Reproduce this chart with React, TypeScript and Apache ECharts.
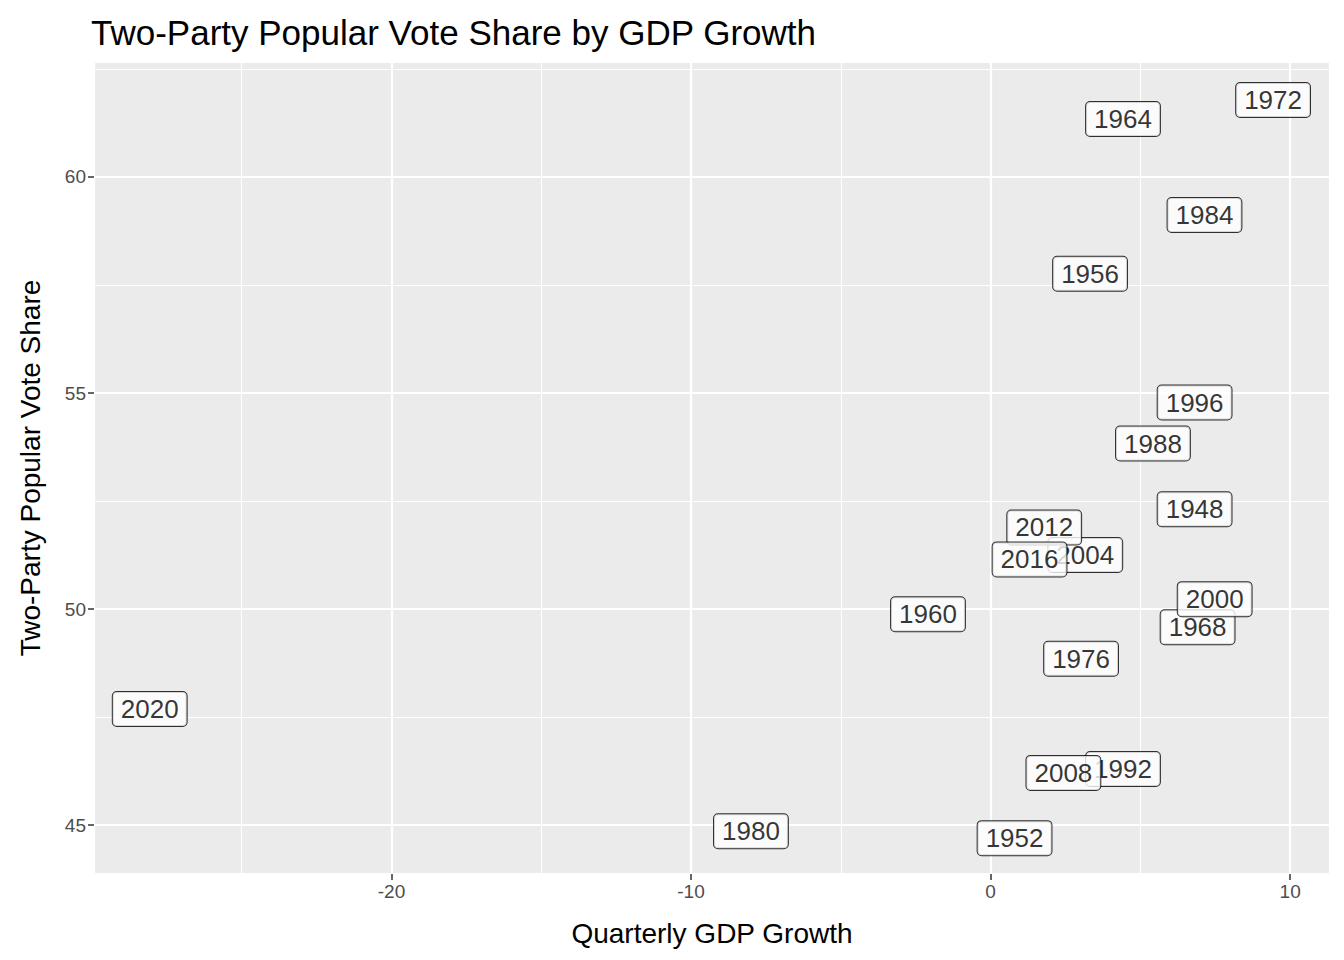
import { useEffect, useRef } from 'react';
import * as echarts from 'echarts';

const YEARS = ['1948', '1952', '1956', '1960', '1964', '1968', '1972', '1976', '1980', '1984', '1988', '1992', '1996', '2000', '2004', '2008', '2012', '2016', '2020'];
const GDP_GROWTH = [6.81, 0.8, 3.32, -2.09, 4.42, 6.91, 9.43, 3.02, -8.0, 7.14, 5.42, 4.42, 6.81, 7.48, 3.16, 2.43, 1.79, 1.3, -28.07];
const VOTE_SHARE = [52.31, 44.7, 57.76, 49.88, 61.34, 49.58, 61.78, 48.85, 44.86, 59.12, 53.83, 46.3, 54.78, 50.23, 51.25, 46.21, 51.89, 51.15, 47.69];

const FONT = '"Liberation Sans", Arial, sans-serif';

export default function App() {
  const ref = useRef<HTMLDivElement>(null);

  useEffect(() => {
    if (!ref.current) return;
    const chart = echarts.init(ref.current, null, { renderer: 'svg' });
    const axisCommon = {
      axisLine: { show: false, onZero: false },
      axisTick: { show: true, length: 6, lineStyle: { color: '#333333', width: 1.5 } },
      axisLabel: { color: '#4D4D4D', fontSize: 19, fontFamily: FONT, showMinLabel: false, showMaxLabel: false },
      splitLine: { show: true, lineStyle: { color: '#FFFFFF', width: 2.2 } },
      minorTick: { show: false, splitNumber: 2 },
      minorSplitLine: { show: true, lineStyle: { color: '#FFFFFF', width: 1.1 } },
      nameLocation: 'middle' as const,
      nameTextStyle: { color: '#000000', fontSize: 28, fontFamily: FONT },
    };
    chart.setOption({
      animation: false,
      backgroundColor: '#FFFFFF',
      title: {
        text: 'Two-Party Popular Vote Share by GDP Growth',
        left: 78,
        top: 2,
        textStyle: { color: '#000000', fontSize: 35, fontWeight: 'normal', fontFamily: FONT },
      },
      grid: { left: 80, right: 6, top: 54, bottom: 77, backgroundColor: '#EBEBEB', show: true, borderWidth: 0 },
      xAxis: {
        ...axisCommon,
        type: 'value',
        position: 'bottom',
        min: -29.93,
        max: 11.33,
        splitNumber: 4,
        name: 'Quarterly GDP Growth',
        nameGap: 45,
      },
      yAxis: {
        ...axisCommon,
        type: 'value',
        position: 'left',
        min: 43.87,
        max: 62.66,
        splitNumber: 4,
        name: 'Two-Party Popular Vote Share',
        nameGap: 50,
      },
      series: [
        {
          type: 'scatter',
          symbolSize: 0,
          itemStyle: { color: 'transparent' },
          data: YEARS.map((y, i) => ({ name: y, value: [GDP_GROWTH[i], VOTE_SHARE[i]] })),
          label: {
            show: true,
            position: 'inside',
            formatter: '{b}',
            color: '#000000',
            fontSize: 26,
            fontFamily: FONT,
            backgroundColor: '#FFFFFF',
            borderColor: '#000000',
            borderWidth: 1,
            borderRadius: 4,
            padding: [5, 8, 3, 8],
          },
          labelLayout: { hideOverlap: false },
        },
      ],
    });
    return () => chart.dispose();
  }, []);

  return <div ref={ref} style={{ width: 1328, height: 944 }} />;
}
